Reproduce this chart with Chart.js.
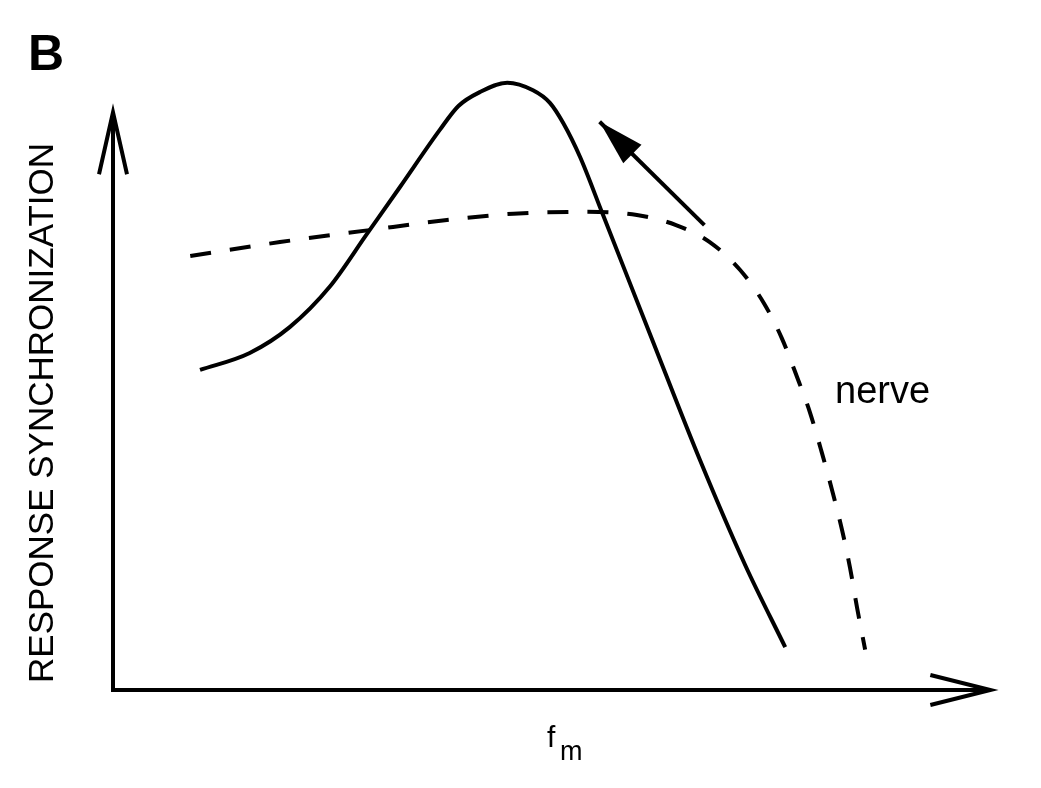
<!DOCTYPE html>
<html>
<head>
<meta charset="utf-8">
<script src="https://cdn.jsdelivr.net/npm/chart.js@4/dist/chart.umd.min.js"></script>
<style>
  html, body { margin: 0; padding: 0; background: #fff; }
  #wrap { width: 1041px; height: 788px; }
</style>
</head>
<body>
<div id="wrap"><canvas id="chart" width="1041" height="788"></canvas></div>
<script>
// Values (arbitrary units, axes run 0..100)
const cellX = [9.8, 15.4, 19.9, 24.4, 28.6, 32.3, 36.8, 38.9, 41.3, 44.4, 47.3, 49.2, 50.7, 52.6, 55.1, 60.5, 66.1, 71.2, 75.7];
const cellY = [50.8, 53.5, 57.6, 64.0, 72.4, 79.8, 88.9, 92.7, 94.9, 96.4, 95.2, 93.2, 90.0, 84.6, 75.7, 56.4, 36.5, 19.8, 6.8];

const nerveX = [8.7, 18.8, 28.9, 37.6, 45.1, 52.6, 59.0, 63.4, 67.2, 70.6, 73.3, 75.3, 77.0, 78.5, 79.8, 81.0, 82.1, 83.0, 83.8, 84.7];
const nerveY = [68.9, 71.1, 73.0, 74.6, 75.6, 75.9, 75.4, 73.8, 71.1, 66.7, 61.4, 55.9, 49.8, 44.0, 37.8, 31.6, 25.4, 19.4, 13.0, 6.4];

// shift arrow: tail -> tip
const shiftX = [66.6, 54.8];
const shiftY = [73.8, 90.2];

// axis ends (arrow tips)
const axisEndX = 98.8;
const axisEndY = 91.7;

const yTitle = 'RESPONSE SYNCHRONIZATION';
const xTitle = 'f';
const xTitleSub = 'm';
const panelLabel = 'B';
const curveLabel = 'nerve';

const toPoints = (xs, ys) => xs.map((x, i) => ({ x: x, y: ys[i] }));

// Draws axes with open arrowheads, the filled shift arrow and all text
const decorations = {
  id: 'decorations',
  afterDatasetsDraw(chart) {
    const ctx = chart.ctx;
    const sx = chart.scales.x;
    const sy = chart.scales.y;
    const x0 = sx.getPixelForValue(0);
    const y0 = sy.getPixelForValue(0);
    const xEnd = sx.getPixelForValue(axisEndX);
    const yEnd = sy.getPixelForValue(axisEndY);

    ctx.save();
    ctx.strokeStyle = '#000';
    ctx.fillStyle = '#000';
    ctx.lineWidth = 4;
    ctx.lineCap = 'butt';
    ctx.lineJoin = 'miter';

    // axes
    ctx.beginPath();
    ctx.moveTo(x0, y0);
    ctx.lineTo(x0, yEnd + 2);
    ctx.moveTo(x0 - 2, y0);
    ctx.lineTo(xEnd - 2, y0);
    ctx.stroke();

    // open arrowheads
    ctx.beginPath();
    ctx.moveTo(x0 - 14, yEnd + 62);
    ctx.lineTo(x0, yEnd);
    ctx.lineTo(x0 + 14, yEnd + 62);
    ctx.moveTo(xEnd - 60, y0 - 15);
    ctx.lineTo(xEnd, y0);
    ctx.lineTo(xEnd - 60, y0 + 15);
    ctx.stroke();

    // filled shift arrow head
    const tx = sx.getPixelForValue(shiftX[1]);
    const ty = sy.getPixelForValue(shiftY[1]);
    const bx = sx.getPixelForValue(shiftX[0]);
    const by = sy.getPixelForValue(shiftY[0]);
    const ang = Math.atan2(ty - by, tx - bx);
    const len = 46, half = 13;
    const mx = tx - len * Math.cos(ang);
    const my = ty - len * Math.sin(ang);
    ctx.beginPath();
    ctx.moveTo(tx, ty);
    ctx.lineTo(mx + half * Math.sin(ang), my - half * Math.cos(ang));
    ctx.lineTo(mx - half * Math.sin(ang), my + half * Math.cos(ang));
    ctx.closePath();
    ctx.fill();

    // text
    ctx.textBaseline = 'alphabetic';
    ctx.font = 'bold 50px "Liberation Sans", Arial, sans-serif';
    ctx.textAlign = 'left';
    ctx.fillText(panelLabel, 28, 70);

    ctx.font = '38px "Liberation Sans", Arial, sans-serif';
    ctx.fillText(curveLabel, 835, 403);

    ctx.font = '30px "Liberation Sans", Arial, sans-serif';
    ctx.fillText(xTitle, 547, 747);
    ctx.font = '27px "Liberation Sans", Arial, sans-serif';
    ctx.fillText(xTitleSub, 560, 760);

    ctx.translate(53, 413);
    ctx.rotate(-Math.PI / 2);
    ctx.textAlign = 'center';
    ctx.font = '35px "Liberation Sans", Arial, sans-serif';
    ctx.fillText(yTitle, 0, 0);
    ctx.restore();
  }
};

new Chart(document.getElementById('chart'), {
  type: 'scatter',
  data: {
    datasets: [
      {
        label: 'cell',
        data: toPoints(cellX, cellY),
        showLine: true,
        borderColor: '#000',
        borderWidth: 4,
        cubicInterpolationMode: 'monotone',
        pointRadius: 0,
        fill: false,
      },
      {
        label: 'nerve',
        data: toPoints(nerveX, nerveY),
        showLine: true,
        borderColor: '#000',
        borderWidth: 4,
        borderDash: [21, 19],
        cubicInterpolationMode: 'monotone',
        pointRadius: 0,
        fill: false,
      },
      {
        label: 'shift',
        data: toPoints(shiftX, shiftY),
        showLine: true,
        borderColor: '#000',
        borderWidth: 4,
        pointRadius: 0,
        fill: false,
      },
    ],
  },
  options: {
    responsive: false,
    animation: false,
    layout: { padding: { left: 113, right: 40, top: 60, bottom: 98 } },
    plugins: {
      legend: { display: false },
      tooltip: { enabled: false },
    },
    scales: {
      x: { type: 'linear', min: 0, max: 100, display: false },
      y: { type: 'linear', min: 0, max: 100, display: false },
    },
  },
  plugins: [decorations],
});
</script>
</body>
</html>
